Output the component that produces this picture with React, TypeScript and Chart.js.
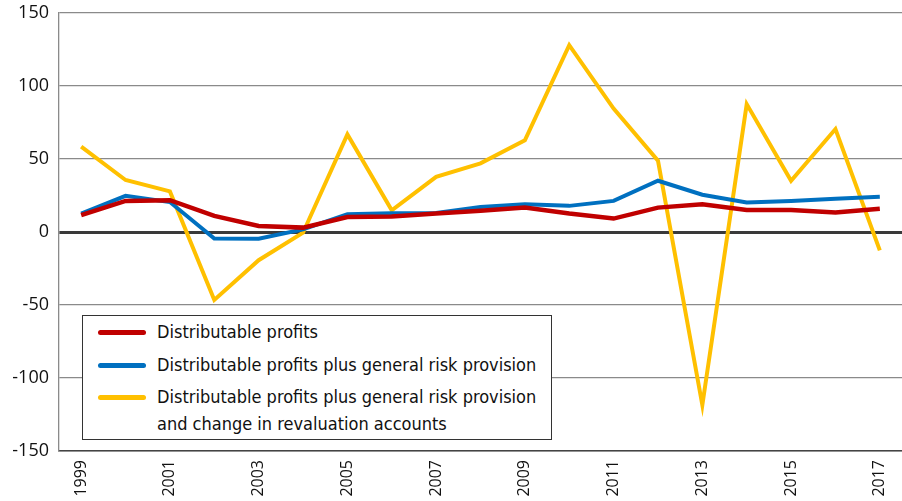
import React, { useEffect, useRef } from "react";
import { Chart, registerables } from "chart.js";

Chart.register(...registerables);

const years = ["1999","2000","2001","2002","2003","2004","2005","2006","2007","2008","2009","2010","2011","2012","2013","2014","2015","2016","2017"];
const distributable = [11.5, 21.3, 21.8, 11, 4.1, 3, 10.3, 10.6, 12.6, 14.5, 16.7, 12.6, 9.2, 16.7, 19, 15.1, 15.1, 13.3, 16];
const plusRiskProvision = [12.6, 24.8, 20.5, -4.4, -4.6, 1.8, 12.2, 12.8, 13, 17.2, 19, 17.9, 21.3, 35.1, 25.5, 20.2, 21.3, 22.7, 24.1];
const plusRevaluation = [58.5, 35.6, 27.8, -46.5, -19.3, -0.5, 66.8, 14.9, 37.8, 47, 62.8, 128, 84.5, 48.9, -118.5, 87.6, 35.1, 70.5, -12.6];
const legendLabels = [
  "Distributable profits",
  "Distributable profits plus general risk provision",
  "Distributable profits plus general risk provision",
];
const legendSecondLine = ["", "", "and change in revaluation accounts"];
const colors = ["#C00000", "#0070C0", "#FFC000"];

const zeroPad = (s: any) => {
  s.paddingTop = 0;
  s.paddingBottom = 0;
  s.paddingLeft = 0;
  s.paddingRight = 0;
};

export default function App() {
  const ref = useRef<HTMLCanvasElement | null>(null);
  useEffect(() => {
    document.body.style.margin = "0";
    if (!ref.current) return;
    const chart = new Chart(ref.current, {
      type: "line",
      data: {
        labels: years,
        datasets: [
          { label: legendLabels[0], data: distributable, borderColor: colors[0], borderWidth: 4.5, pointRadius: 0, tension: 0 },
          { label: legendLabels[1], data: plusRiskProvision, borderColor: colors[1], borderWidth: 4, pointRadius: 0, tension: 0 },
          { label: legendLabels[2] + " " + legendSecondLine[2], data: plusRevaluation, borderColor: colors[2], borderWidth: 4, pointRadius: 0, tension: 0 },
        ],
      },
      options: {
        animation: false,
        responsive: false,
        maintainAspectRatio: false,
        layout: { padding: { top: 13, right: 0, left: 0, bottom: 0 } },
        plugins: { legend: { display: false }, tooltip: { enabled: false } },
        scales: {
          x: {
            type: "category",
            offset: true,
            grid: { display: true, color: "rgba(0,0,0,0)", drawTicks: false },
            border: { display: true, color: "#444", width: 1.5 },
            ticks: {
              autoSkip: false,
              maxRotation: 90,
              minRotation: 90,
              padding: 9,
              color: "#111",
              font: { family: "'Open Sans', sans-serif", size: 16 },
              callback: (_v: any, i: number) => (i % 2 === 0 ? years[i] : ""),
            },
            afterFit: (s: any) => { s.height = 50; zeroPad(s); },
          },
          y: {
            min: -150,
            max: 150,
            ticks: {
              stepSize: 50,
              padding: 10,
              color: "#111",
              font: { family: "'Open Sans', sans-serif", size: 18 },
            },
            grid: {
              drawTicks: false,
              color: (ctx: any) => (ctx.tick && ctx.tick.value === 0 ? "#3a3a3a" : "#8a8a8a"),
              lineWidth: (ctx: any) => (ctx.tick && ctx.tick.value === 0 ? 3 : 1.3),
            },
            border: { display: true, color: "#8a8a8a", width: 1.3 },
            afterFit: (s: any) => { s.width = 59; zeroPad(s); },
          },
        },
      },
    });
    return () => chart.destroy();
  }, []);

  const legendFont = "'Liberation Sans Narrow', 'DejaVu Sans Condensed', 'Open Sans', sans-serif";
  return (
    <div style={{ position: "relative", width: 902, height: 501, background: "#fff" }}>
      <canvas ref={ref} width={902} height={501} style={{ display: "block", width: 902, height: 501 }} />
      <div
        style={{
          position: "absolute",
          left: 82,
          top: 315,
          width: 470,
          height: 125,
          border: "1.5px solid #333",
          background: "#fff",
          fontFamily: legendFont,
          fontSize: 18,
          color: "#111",
          boxSizing: "border-box",
        }}
      >
        {legendLabels.map((lab, i) => (
          <div key={i} style={{ position: "absolute", left: 0, top: 1 + i * 32.5, width: 460 }}>
            <div
              style={{
                position: "absolute",
                left: 15,
                top: 13,
                width: 48,
                height: 5,
                borderRadius: 3,
                background: colors[i],
              }}
            />
            <div style={{ position: "absolute", left: 74, top: 0, width: 390, lineHeight: "30px", whiteSpace: "nowrap" }}>
              {lab}
            </div>
            {legendSecondLine[i] ? (
              <div style={{ position: "absolute", left: 74, top: 27, width: 390, lineHeight: "30px", whiteSpace: "nowrap" }}>
                {legendSecondLine[i]}
              </div>
            ) : null}
          </div>
        ))}
      </div>
    </div>
  );
}
